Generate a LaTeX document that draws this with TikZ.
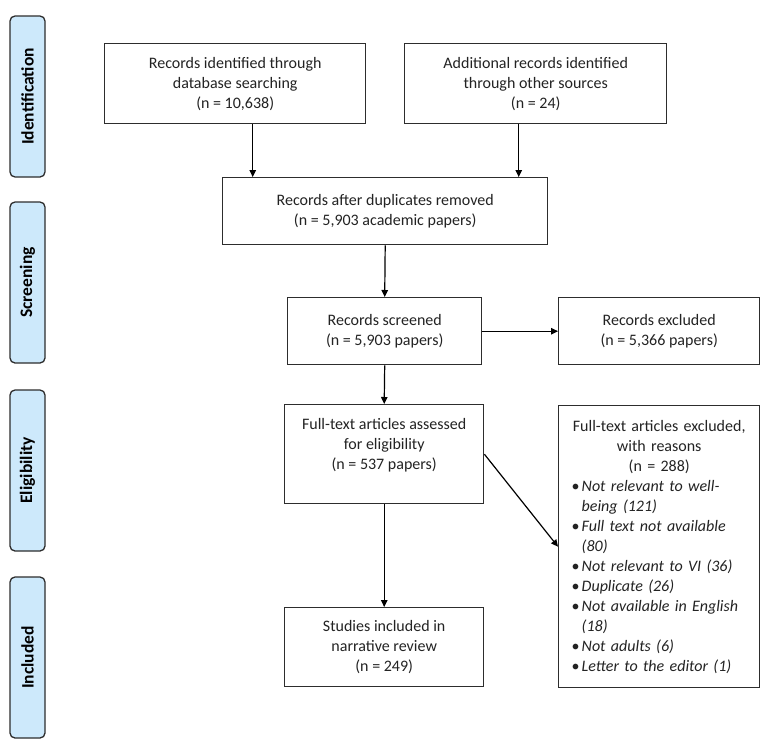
\documentclass[tikz,border=0pt]{standalone}
\usepackage{fontspec}
\setmainfont{Carlito}
\usetikzlibrary{arrows.meta}
\definecolor{sidefill}{RGB}{205,233,251}
\definecolor{linegray}{RGB}{45,45,45}
\definecolor{textgray}{RGB}{35,35,35}
\begin{document}
\begin{tikzpicture}[x=1pt,y=-1pt,
  box/.style={draw=linegray, line width=1.4pt, fill=white, anchor=north west, inner sep=0pt,
    align=center, text=textgray, font=\fontsize{16}{20}\selectfont},
  side/.style={draw=linegray, line width=1.3pt, fill=sidefill, rounded corners=5pt, rotate=90,
    minimum width=161pt, minimum height=35pt, inner sep=0pt, text=black,
    font=\fontsize{17.5}{20}\selectfont\bfseries},
  arr/.style={draw=black, line width=1.2pt, -{Triangle[length=7pt,width=6.5pt]}}]
\useasboundingbox (0,0) rectangle (767,744);

% phase labels
\node[side] (sid) at (27.5,96.5) {Identification};
\node[side] (sscr) at (27.5,282.5) {Screening};
\node[side] (selig) at (27.5,470.5) {Eligibility};
\node[side] (sinc) at (27.5,657.5) {Included};

% boxes
\node[box, minimum width=261pt, minimum height=80pt] (b1) at (104,43)
  {Records identified through\\database searching\\(n = 10,638)};
\node[box, minimum width=262pt, minimum height=80pt] (b2) at (404,43)
  {Additional records identified\\through other sources\\(n = 24)};
\node[box, minimum width=325pt, minimum height=67pt] (b3) at (222,177)
  {Records after duplicates removed\\(n = 5,903 academic papers)};
\node[box, minimum width=194pt, minimum height=67pt] (b4) at (287,297)
  {Records screened\\(n = 5,903 papers)};
\node[box, minimum width=201pt, minimum height=67pt] (b5) at (558,297)
  {Records excluded\\(n = 5,366 papers)};
\node[box, minimum width=199pt, minimum height=99pt] (b6) at (284,404)
  {Full-text articles assessed\\for eligibility\\(n = 537 papers)\\\mbox{}};
\node[box, minimum width=199pt, minimum height=79pt] (b7) at (284,607)
  {Studies included in\\narrative review\\(n = 249)};
\node[box, minimum width=201pt, minimum height=282pt, text width=201pt, align=left] (b8) at (558,405)
  {{\centering Full-text articles excluded,\\with reasons\\(n = 288)\par}
   \itshape
   \hspace*{13pt}\makebox[10pt][l]{\upshape•}Not relevant to well-\\
   \hspace*{23pt}being (121)\\
   \hspace*{13pt}\makebox[10pt][l]{\upshape•}Full text not available\\
   \hspace*{23pt}(80)\\
   \hspace*{13pt}\makebox[10pt][l]{\upshape•}Not relevant to VI (36)\\
   \hspace*{13pt}\makebox[10pt][l]{\upshape•}Duplicate (26)\\
   \hspace*{13pt}\makebox[10pt][l]{\upshape•}Not available in English\\
   \hspace*{23pt}(18)\\
   \hspace*{13pt}\makebox[10pt][l]{\upshape•}Not adults (6)\\
   \hspace*{13pt}\makebox[10pt][l]{\upshape•}Letter to the editor (1)};

% connectors
\draw[arr] ([xshift=17.5pt]b1.south) -- ([xshift=17.5pt]b1.south |- b3.north);
\draw[arr] ([xshift=-17pt]b2.south) -- ([xshift=-17pt]b2.south |- b3.north);
\draw[arr] (b3.south) -- (b4.north);
\draw[arr] (b4.east) -- (b5.west);
\draw[arr] (b4.south) -- (b6.north);
\draw[arr] (b6.south) -- (b7.north);
\draw[arr] (b6.east) -- (b8.west);
\end{tikzpicture}
\end{document}
